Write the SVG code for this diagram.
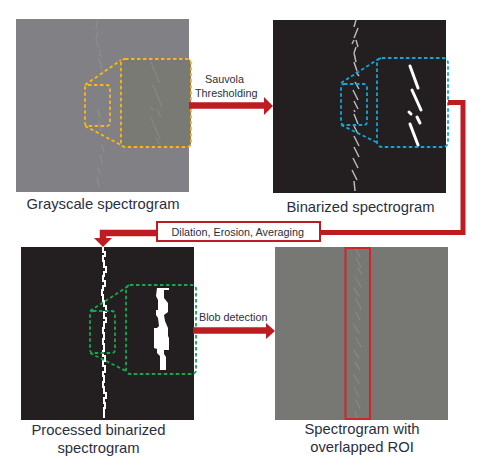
<svg xmlns="http://www.w3.org/2000/svg" width="481" height="462" viewBox="0 0 481 462">
<style>
text{font-family:"Liberation Sans",Arial,sans-serif;fill:#2a2f3f}
.cap{font-size:14.8px;text-anchor:middle}
.lab{font-size:10.8px}
.flow{fill:none;stroke:#bd1c22;stroke-width:6.500}
.head{fill:#bd1c22}
.zoom{fill:none;stroke-width:1.800;stroke-dasharray:3.500 2.500;stroke-linejoin:round}
.y{stroke:#fbb614}.b{stroke:#12a5d8}.g{stroke:#12a84e}
.faint{stroke:#8d8d91;stroke-width:1.300;fill:none;stroke-linecap:round}
.faint2{stroke:#858581;stroke-width:1.500;fill:none;stroke-linecap:round}
.bin{stroke:#b8b8b8;stroke-width:1.500;fill:none}
.binz{stroke:#fff;stroke-width:3;fill:none;stroke-linecap:round}
</style>
<g id="node-grayscale">
<rect x="16" y="19" width="173" height="173" fill="#808085"/>
<path class="faint" d="M98 20l-2 8M98 31l-2 8M96 41l3 6M99 50l2 7M99 60l3 6M100 66l4 8M102 145l2 7M100 155l2 8M98 167l2 7M97 178l2 8M98 110l2 8M99 122l2 8"/>
<rect x="121" y="59" width="70" height="88" rx="4" fill="#7a7a74"/>
<path class="faint2" d="M151 62l8 20M153 85l9 22M151 108l2 2M158 111l3 6M151 118l9 21M156 138l3 6"/>
<rect class="zoom y" x="85" y="85" width="25" height="41" rx="3"/>
<rect class="zoom y" x="121" y="59" width="70" height="88" rx="4"/>
<path class="zoom y" d="M85 85L121 60M85 126L121 145"/>
<text class="cap" x="103" y="209">Grayscale spectrogram</text>
</g>
<g id="node-binarized">
<rect x="273" y="20" width="173" height="173" fill="#231f20"/>
<path class="bin" d="M356 20l-2 7M358 28l-4 10M354 40l-2 4M356 40l2 7M356 47l-2 6M354 53l2 9M354 62l3 9M356 72l3 4M355 82l4 7M353 90l5 10M354 101l4 8M354 110l1 2M354 114l4 10M354 126l4 8M354 136l5 10M354 147l5 10M353 158l5 10M352 170l5 10M354 181l1 10"/>
<path class="binz" d="M410 66l8 22M412 90l9 20M409 112l2 2M417 117l3 6M410 124l8 21"/>
<rect class="zoom b" x="341" y="84" width="26" height="41" rx="3"/>
<rect class="zoom b" x="377" y="58" width="71" height="89" rx="5"/>
<path class="zoom b" d="M341 83L380 58M341 125L378 143"/>
<text class="cap" x="360.500" y="212">Binarized spectrogram</text>
</g>
<g id="node-processed">
<rect x="21" y="247" width="173" height="173" fill="#231f20"/>
<path d="M103 247v5h2v4h-2v5h1v6h2v5h-2v4h-1v5h2v5h-2v4h-1v5h1v6h1v5h2v6h-2v6h2v4h-2v6h-1v5h1v6h-1v5h1v7h-1v5h2v5h-2v5h2v6h-2v4h1v6h-1v5h1v6h2v5h-2v5h1v5h-1v10" fill="none" stroke="#fff" stroke-width="2"/>
<path d="M157 288h12v2h-5v8l4 5v9l-4 3 1 6 3 7v8l1 2v12h-5v4l2 3v13h-6v-14l-3-3v-4l-3-1v-20h3l2-2-1-8-2-3v-5h2v-10l-2-4z" fill="#fff"/>
<rect class="zoom g" x="90" y="311" width="25" height="42" rx="3"/>
<rect class="zoom g" x="126" y="285" width="70" height="89" rx="4"/>
<path class="zoom g" d="M90 311L130 285M90 353L126 371"/>
<text class="cap" x="98.500" y="435">Processed binarized</text>
<text class="cap" x="98.500" y="453">spectrogram</text>
</g>
<g id="node-roi">
<rect x="275" y="247" width="173" height="173" fill="#777774"/>
<path class="faint2" style="stroke:#86867f" d="M356 249l4 8M356 258l5 9M358 268l4 6M356 278l5 9M354 288l5 8M356 299l5 10M356 312l4 8M354 325l5 8M356 338l5 9M354 350l5 8M355 362l5 8M354 375l5 8M354 388l5 9M356 400l4 8M355 412l2 5"/>
<rect x="345.500" y="248" width="24.500" height="171" fill="none" stroke="#d2232a" stroke-width="2"/>
<text class="cap" x="362" y="434">Spectrogram with</text>
<text class="cap" x="362" y="452">overlapped ROI</text>
</g>
<g id="connectors">
<path class="flow" d="M189 105.500H265"/>
<polygon class="head" points="264,97 273,106 264,115"/>
<path d="M448 102.500H463V232.500H320" fill="none" stroke="#bd1c22" stroke-width="5"/>
<path class="flow" d="M156 233H103V240"/>
<polygon class="head" points="94,238 112,238 103,247"/>
<path class="flow" d="M193 330.500H267"/>
<polygon class="head" points="266,323 275,331 266,339"/>
</g>
<g id="labels">
<rect x="157" y="222" width="163" height="19" fill="#fff" stroke="#bd1c22" stroke-width="2"/>
<text class="lab" x="171.500" y="236">Dilation, Erosion, Averaging</text>
<text class="lab" x="205" y="83">Sauvola</text>
<text class="lab" x="195" y="97">Thresholding</text>
<text class="lab" x="199" y="321">Blob detection</text>
</g>
</svg>
